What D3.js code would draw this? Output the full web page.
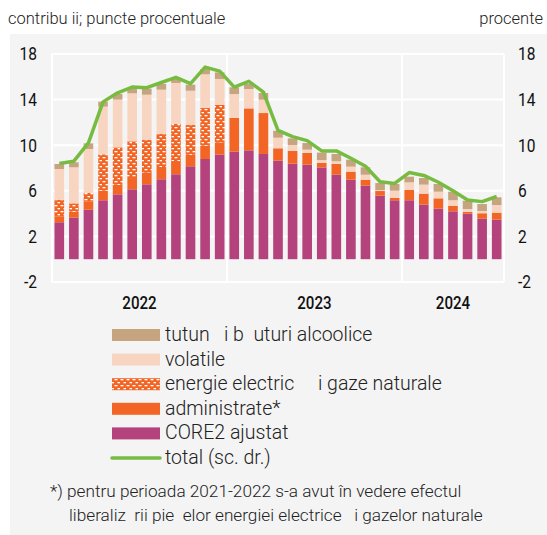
<!DOCTYPE html>
<html>
<head>
<meta charset="utf-8">
<script src="https://cdn.jsdelivr.net/npm/d3@7"></script>
<style>
  body { margin: 0; background: #fff; }
  text { white-space: pre; }
</style>
</head>
<body>
<svg id="chart" width="547" height="535"></svg>
<script>
// months Jan 2022 .. Jul 2024
const months = d3.range(31).map(i => new Date(2022, i, 1));
const years = ["2022", "2023", "2024"];
const yTicks = [-2, 2, 6, 10, 14, 18];

// contributions, percentage points
const core2 = [3.24, 3.64, 4.34, 5.17, 5.69, 6.13, 6.57, 7.01, 7.45, 8.15, 8.79, 9.17,
               9.43, 9.55, 9.23, 8.64, 8.38, 8.29, 8.05, 7.41, 6.97, 6.45, 5.57, 5.17,
               5.17, 4.78, 4.43, 4.20, 3.99, 3.55, 3.47];
const administrate = [0.49, 0.53, 0.74, 0.84, 0.85, 0.99, 1.05, 1.08, 1.16, 1.02, 1.17, 1.08,
               2.96, 3.68, 3.59, 1.09, 1.11, 1.03, 0.40, 0.94, 0.71, 0.52, 0.41, 0.20,
               0.90, 0.97, 0.91, 0.49, 0.15, 0.48, 0.61];
const energie = [1.49, 0.73, 0.73, 3.19, 3.27, 3.22, 2.86, 2.89, 3.25, 2.60, 3.30, 3.28,
               0, 0, 0, 0, 0, 0, 0, 0, 0, 0, 0, 0,
               0, 0, 0, 0, 0, 0, 0];
const volatile = [2.69, 3.16, 3.86, 4.18, 4.19, 4.21, 3.95, 3.89, 3.60, 3.01, 2.96, 2.28,
               2.10, 1.70, 1.17, 0.93, 0.53, 0.29, 0.25, 0.24, 0.44, 0.44, 0.09, 0.64,
               0.67, 0.79, 0.58, 0.48, 0.26, 0.20, 0.67];
const tutun = [0.44, 0.44, 0.49, 0.44, 0.49, 0.44, 0.53, 0.50, 0.41, 0.53, 0.46, 0.58,
               0.59, 0.44, 0.59, 0.61, 0.58, 0.58, 0.65, 0.64, 0.61, 0.65, 0.61, 0.59,
               0.50, 0.58, 0.68, 0.75, 0.73, 0.61, 0.68];
// total, percent (right scale)
const total = [8.4, 8.6, 10.2, 13.8, 14.6, 15.1, 15.05, 15.5, 15.95, 15.4, 16.85, 16.5,
               15.1, 15.6, 14.65, 11.3, 10.75, 10.4, 9.5, 9.5, 8.85, 8.15, 6.8, 6.65,
               7.6, 7.35, 6.75, 6.0, 5.2, 5.05, 5.5];

const seriesKeys = ["core2", "administrate", "energie", "volatile", "tutun"];
const seriesNames = {
  tutun: "tutun   i b  uturi alcoolice",
  volatile: "volatile",
  energie: "energie electric     i gaze naturale",
  administrate: "administrate*",
  core2: "CORE2 ajustat"
};
const colors = {
  core2: "#b4427c",
  administrate: "#f26524",
  energie: "url(#hatch)",
  volatile: "#f7d5c1",
  tutun: "#c7a480"
};

const rows = months.map((m, i) => ({
  month: m, core2: core2[i], administrate: administrate[i], energie: energie[i],
  volatile: volatile[i], tutun: tutun[i], total: total[i]
}));

const svg = d3.select("#chart");
const light = "Roboto, sans-serif";
const squeeze = 0.84; // fake a condensed face for the numbers

const margin = {left: 52, right: 43};
const W = 547, H = 535;

// panel background
svg.append("rect").attr("x", 10).attr("y", 34).attr("width", 537).attr("height", H - 34)
  .attr("fill", "#f4f4f4");

const defs = svg.append("defs");
const pat = defs.append("pattern").attr("id", "hatch").attr("patternUnits", "userSpaceOnUse")
  .attr("width", 6).attr("height", 6);
pat.append("rect").attr("width", 6).attr("height", 6).attr("fill", "#f26524");
pat.append("rect").attr("x", 0.5).attr("y", 1).attr("width", 3).attr("height", 1.3).attr("fill", "#fff");
pat.append("rect").attr("x", 3.5).attr("y", 4).attr("width", 3).attr("height", 1.3).attr("fill", "#fff");

const x = d3.scaleBand().domain(months).range([margin.left, W - margin.right])
  .paddingInner(0.34).paddingOuter(0.17);
const yL = d3.scaleLinear().domain([-2, 18]).range([282, 54]);

// grid
const grid = svg.append("g");
grid.selectAll("line.h").data(yTicks).join("line")
  .attr("x1", margin.left).attr("x2", W - margin.right)
  .attr("y1", d => yL(d)).attr("y2", d => yL(d))
  .attr("stroke", "#fff").attr("stroke-width", 2);
const step = x.step();
const bounds = [x(months[0]) - step * 0.17, x(months[12]) - step * 0.17, x(months[24]) - step * 0.17,
  x(months[30]) + x.bandwidth() + step * 0.17];
grid.selectAll("line.v").data(bounds).join("line")
  .attr("x1", d => d).attr("x2", d => d).attr("y1", yL(18)).attr("y2", yL(-2))
  .attr("stroke", "#fff").attr("stroke-width", 2);

// stacked bars
const stack = d3.stack().keys(seriesKeys)(rows);
svg.append("g").selectAll("g").data(stack).join("g")
  .attr("fill", d => colors[d.key])
  .selectAll("rect").data(d => d.filter(p => p[1] - p[0] > 0)).join("rect")
  .attr("x", d => x(d.data.month)).attr("width", x.bandwidth())
  .attr("y", d => yL(d[1])).attr("height", d => yL(d[0]) - yL(d[1]));

// total line
const line = d3.line().x(d => x(d.month) + x.bandwidth() / 2).y(d => yL(d.total));
svg.append("path").datum(rows).attr("d", line).attr("fill", "none")
  .attr("stroke", "#77bc41").attr("stroke-width", 3.5).attr("stroke-linejoin", "round");

// axes
const fmt = d => String(d);
const axL = svg.append("g").attr("transform", `translate(${margin.left},0)`)
  .call(d3.axisLeft(yL).tickValues(yTicks).tickSize(0).tickPadding(15).tickFormat(fmt));
const axR = svg.append("g").attr("transform", `translate(${W - margin.right},0)`)
  .call(d3.axisRight(yL).tickValues(yTicks).tickSize(0).tickPadding(14).tickFormat(fmt));
[axL, axR].forEach(a => {
  a.select(".domain").remove();
  a.selectAll("text").each(function () {
    const t = d3.select(this);
    t.attr("x", +t.attr("x") / squeeze).attr("transform", `scale(${squeeze},1)`);
  })
  .attr("font-family", light).attr("font-size", 18.5).attr("fill", "#111");
});

// year labels
svg.append("g").selectAll("text").data(years).join("text")
  .attr("x", (d, i) => {
    const first = x(months[i * 12]);
    const last = x(months[Math.min(i * 12 + 11, 30)]) + x.bandwidth();
    return (first + last) / 2 / squeeze;
  })
  .attr("transform", `scale(${squeeze},1)`)
  .attr("y", 309).attr("text-anchor", "middle")
  .attr("font-family", light).attr("font-size", 18).attr("font-weight", 500).attr("fill", "#111")
  .text(d => d);

// header
svg.append("text").attr("x", 8).attr("y", 24).attr("font-family", light).attr("font-size", 16.5)
  .attr("font-weight", 300).attr("fill", "#222").text("contribu ii; puncte procentuale");
svg.append("text").attr("x", 543).attr("y", 24).attr("text-anchor", "end").attr("font-family", light)
  .attr("font-size", 16.5).attr("font-weight", 300).attr("fill", "#222").text("procente");

// legend
const legendKeys = ["tutun", "volatile", "energie", "administrate", "core2"];
const lg = svg.append("g").attr("font-family", light).attr("font-weight", 300).attr("fill", "#222");
legendKeys.forEach((k, i) => {
  const cy = 335 + i * 24.6;
  lg.append("rect").attr("x", 112).attr("y", cy - 6).attr("width", 48).attr("height", 12)
    .attr("fill", colors[k]);
  lg.append("text").attr("x", 165).attr("y", cy + 6).attr("font-size", 19.5)
    .text(seriesNames[k]);
});
const cyT = 335 + 5 * 24.6;
lg.append("line").attr("x1", 112).attr("x2", 160).attr("y1", cyT).attr("y2", cyT)
  .attr("stroke", "#77bc41").attr("stroke-width", 3.5).attr("stroke-linecap", "round");
lg.append("text").attr("x", 165).attr("y", cyT + 6).attr("font-size", 19.5)
  .text("total (sc. dr.)");

// footnote
const fn = svg.append("g").attr("font-family", light).attr("font-weight", 300).attr("fill", "#222")
  .attr("font-size", 17.2);
fn.append("text").attr("x", 50).attr("y", 497)
  .text("*) pentru perioada 2021-2022 s-a avut în vedere efectul");
fn.append("text").attr("x", 69).attr("y", 521)
  .text("liberaliz  rii pie  elor energiei electrice   i gazelor naturale");
</script>
</body>
</html>
